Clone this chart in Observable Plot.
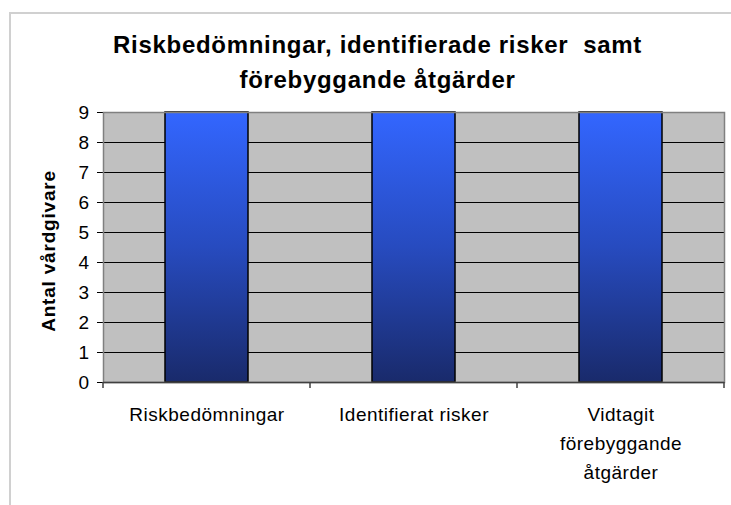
<!DOCTYPE html>
<html><head><meta charset="utf-8">
<script src="https://cdn.jsdelivr.net/npm/d3@7"></script>
<script src="https://cdn.jsdelivr.net/npm/@observablehq/plot@0.6"></script>
<style>
body{margin:0;background:#fff;font-family:"Liberation Sans",Arial,sans-serif;}
#wrap{position:relative;width:731px;height:505px;overflow:hidden;}
#border{position:absolute;left:9px;top:12px;width:800px;height:600px;border-left:2px solid #d0d0d0;border-top:2px solid #d0d0d0;}
#title{position:absolute;left:0;top:27px;width:755px;text-align:center;font-weight:bold;font-size:24px;line-height:35px;letter-spacing:0.7px;white-space:pre;color:#000;}
#ylabel{position:absolute;left:49px;top:251px;transform:translate(-50%,-50%) rotate(-90deg);font-weight:bold;font-size:19px;letter-spacing:0.8px;white-space:nowrap;color:#000;}
#chart{position:absolute;left:0;top:0;}
#chart text{letter-spacing:0.5px;}
#chart [aria-label^="y-axis"] text{font-size:19px;}
</style>
</head><body>
<div id="wrap">
  <div id="border"></div>
  <div id="chart"></div>
  <div id="title"></div>
  <div id="ylabel"></div>
</div>
<script>
const titleLines = ["Riskbedömningar, identifierade risker  samt", "förebyggande åtgärder"];
const yLabel = "Antal vårdgivare";
const categories = ["Riskbedömningar", "Identifierat risker", "Vidtagit förebyggande åtgärder"];
const categoryLabels = ["Riskbedömningar", "Identifierat risker", "Vidtagit\nförebyggande\nåtgärder"];
const values = [9, 9, 9];
const yTicks = [0, 1, 2, 3, 4, 5, 6, 7, 8, 9];

const data = categories.map((c, i) => ({category: c, label: categoryLabels[i], value: values[i]}));
const ns = "http://www.w3.org/2000/svg";

document.getElementById("title").textContent = titleLines.join("\n");
document.getElementById("ylabel").textContent = yLabel;

const defsMark = () => {
  const d = document.createElementNS(ns, "defs");
  d.innerHTML = '<linearGradient id="barGrad" x1="0" y1="0" x2="0" y2="1">' +
    '<stop offset="0" stop-color="#3366ff"/><stop offset="0.5" stop-color="#274bbf"/><stop offset="1" stop-color="#192a6b"/></linearGradient>';
  return d;
};

const boundaryTicks = (index, scales) => {
  const x = scales.x, y = scales.y;
  const g = document.createElementNS(ns, "g");
  const step = x.step(), bw = x.bandwidth(), y0 = y(0);
  const edges = categories.map(c => x(c) + bw / 2 - step / 2);
  edges.push(x(categories[categories.length - 1]) + bw / 2 + step / 2);
  for (const e of edges) {
    const l = document.createElementNS(ns, "line");
    l.setAttribute("x1", e); l.setAttribute("x2", e);
    l.setAttribute("y1", y0); l.setAttribute("y2", y0 + 6);
    l.setAttribute("stroke", "#404040"); l.setAttribute("stroke-width", 1.5);
    g.appendChild(l);
  }
  return g;
};

const chart = Plot.plot({
  width: 731, height: 505,
  marginLeft: 103, marginRight: 7, marginTop: 112, marginBottom: 123,
  style: {fontFamily: '"Liberation Sans", Arial, sans-serif', fontSize: "19px", color: "#000", background: "transparent", overflow: "visible"},
  x: {domain: categories, paddingInner: 0.6, paddingOuter: 0.3, axis: null},
  y: {domain: [0, 9], ticks: yTicks, tickSize: 6, tickPadding: 8, label: null, tickFormat: d => String(d)},
  marks: [
    defsMark,
    Plot.frame({fill: "#c0c0c0"}),
    Plot.ruleY(yTicks, {stroke: "#000", strokeWidth: 1}),
    Plot.barY(data, {x: "category", y: "value", fill: "url(#barGrad)", stroke: "#000", strokeWidth: 1.5}),
    Plot.frame({stroke: "#808080", strokeWidth: 1.5}),
    Plot.ruleY([0], {stroke: "#404040", strokeWidth: 1.5}),
    boundaryTicks,
    Plot.text(data, {x: "category", text: "label", frameAnchor: "bottom", lineAnchor: "top", dy: 18, lineHeight: 1.53, fontSize: 19})
  ]
});
document.getElementById("chart").appendChild(chart);
</script>
</body></html>
